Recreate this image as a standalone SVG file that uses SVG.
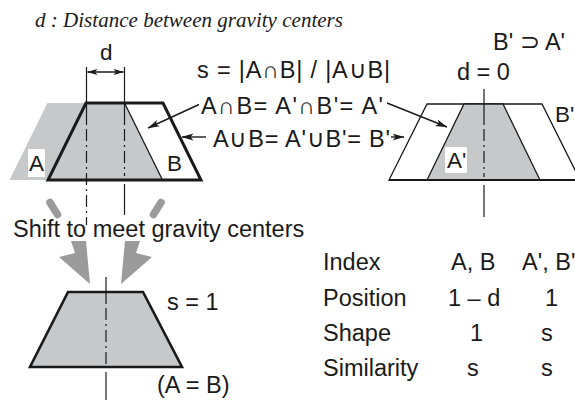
<svg xmlns="http://www.w3.org/2000/svg" width="575" height="401" viewBox="0 0 575 401">
<defs>
<style>
.t{font-family:"Liberation Sans",Arial,sans-serif;font-size:23.5px;fill:#1a1a1a}
.lb{font-family:"Liberation Sans",Arial,sans-serif;font-size:22.5px;fill:#1a1a1a}
.ti{font-family:"Liberation Serif","Times New Roman",serif;font-style:italic;font-size:21px;fill:#1a1a1a}
.gray{fill:#c7c8ca}
.thick{fill:none;stroke:#1a1a1a;stroke-width:3}
.thin{fill:none;stroke:#1a1a1a;stroke-width:1.3}
.cl{fill:none;stroke:#1a1a1a;stroke-width:1.2}
.dd{stroke-dasharray:12 4 2 4}
.arr{fill:none;stroke:#1a1a1a;stroke-width:1.4;marker-end:url(#ah)}
.dim{fill:none;stroke:#1a1a1a;stroke-width:1.3;marker-start:url(#ahd);marker-end:url(#ahd)}
.big{fill:#9b9b9b}
.bigs{fill:none;stroke:#9b9b9b;stroke-width:7.5;stroke-linecap:round}
.bg{fill:#ffffff}
</style>
<marker id="ah" viewBox="0 0 12 8" refX="11.5" refY="4" markerWidth="12" markerHeight="8" markerUnits="userSpaceOnUse" orient="auto"><path d="M0,0.5 L12,4 L0,7.5 L3,4 z" fill="#1a1a1a"/></marker>
<marker id="ahd" viewBox="0 0 12 8" refX="11.5" refY="4" markerWidth="11" markerHeight="7" markerUnits="userSpaceOnUse" orient="auto-start-reverse"><path d="M0,0.5 L12,4 L0,7.5 L3,4 z" fill="#1a1a1a"/></marker>
</defs>

<g id="title">
<text class="ti" x="35" y="27" textLength="308" lengthAdjust="spacing">d : Distance between gravity centers</text>
</g>

<g id="shapeAB">
<polygon class="gray" points="47.5,103 124.5,103 162.5,180 9.5,180"/>
<line class="thin" x1="124.5" y1="103" x2="162.5" y2="180"/>
<polygon class="thick" points="86,103 163,103 201,180 48,180"/>
<rect class="bg" x="28" y="149" width="17" height="28"/>
<text class="lb" x="29" y="171">A</text>
<text class="lb" x="167" y="171">B</text>
<path class="cl" d="M86.5,67 V125"/>
<path class="cl dd" d="M86.5,129 V225"/>
<path class="cl" d="M124.5,67 V125"/>
<path class="cl dd" d="M124.5,129 V176"/>
<path class="cl" d="M124.5,184 V215"/>
</g>

<g id="dimension">
<text class="lb" x="100" y="60">d</text>
<line class="dim" x1="87.5" y1="72" x2="123.5" y2="72"/>
</g>

<g id="formulas">
<text class="t" x="197" y="78" textLength="193" lengthAdjust="spacing">s = |A∩B| / |A∪B|</text>
<text class="t" x="201" y="114" textLength="182" lengthAdjust="spacing">A∩B= A'∩B'= A'</text>
<text class="t" x="213" y="147" textLength="177" lengthAdjust="spacing">A∪B= A'∪B'= B'</text>
</g>

<g id="shapeA2B2">
<text class="t" x="493" y="50">B' ⊃ A'</text>
<text class="t" x="457" y="80">d = 0</text>
<polygon fill="#ffffff" stroke="#1a1a1a" stroke-width="1.3" points="427,104 542,104 580,180 389,180"/>
<polygon class="gray" stroke="#1a1a1a" stroke-width="1.3" points="464,104 503,104 540,180 427,180"/>
<line stroke="#1a1a1a" stroke-width="1.8" x1="389" y1="180" x2="575" y2="180"/>
<path class="cl" d="M484,89 V125"/>
<path class="cl dd" d="M484,129 V177"/>
<path class="cl" d="M484,185 V217"/>
<text class="lb" x="555" y="122">B'</text>
<rect class="bg" x="445" y="147" width="22" height="26"/>
<text class="lb" x="447" y="168">A'</text>
</g>

<g id="shift">
<path class="bigs" d="M50,202.5 L57.5,214.5"/>
<polygon class="big" points="71,241 86,241 90,284 59,257 75,253"/>
<path class="bigs" d="M161,202.5 L153.5,214.5"/>
<polygon class="big" points="140,241 125,241 121,284 152,257 136,253"/>
<text class="t" x="13" y="237">Shift to meet gravity centers</text>
</g>

<g id="shapeMerged">
<polygon class="gray" stroke="#1a1a1a" stroke-width="2.6" points="68,292 143,292 182,367 30,367"/>
<path class="cl" d="M106,277 V304"/>
<path class="cl dd" d="M106,308 V365"/>
<path class="cl" d="M106,372 V400"/>
<text class="t" x="167" y="310">s = 1</text>
<text class="t" x="157" y="393">(A = B)</text>
</g>

<g id="table">
<text class="t" x="323" y="270">Index</text>
<text class="t" x="451" y="270">A, B</text>
<text class="t" x="522" y="270">A', B'</text>
<text class="t" x="323" y="306">Position</text>
<text class="t" x="448" y="306">1 – d</text>
<text class="t" x="545" y="306">1</text>
<text class="t" x="323" y="341">Shape</text>
<text class="t" x="470" y="341">1</text>
<text class="t" x="541" y="341">s</text>
<text class="t" x="323" y="376">Similarity</text>
<text class="t" x="467" y="376">s</text>
<text class="t" x="541" y="376">s</text>
</g>

<g id="connectors">
<line class="arr" x1="199" y1="104.5" x2="148" y2="128"/>
<line class="arr" x1="387" y1="103" x2="447" y2="127"/>
<line class="arr" x1="206" y1="137" x2="182" y2="137"/>
<line class="arr" x1="391" y1="137" x2="404" y2="137"/>
</g>
</svg>
